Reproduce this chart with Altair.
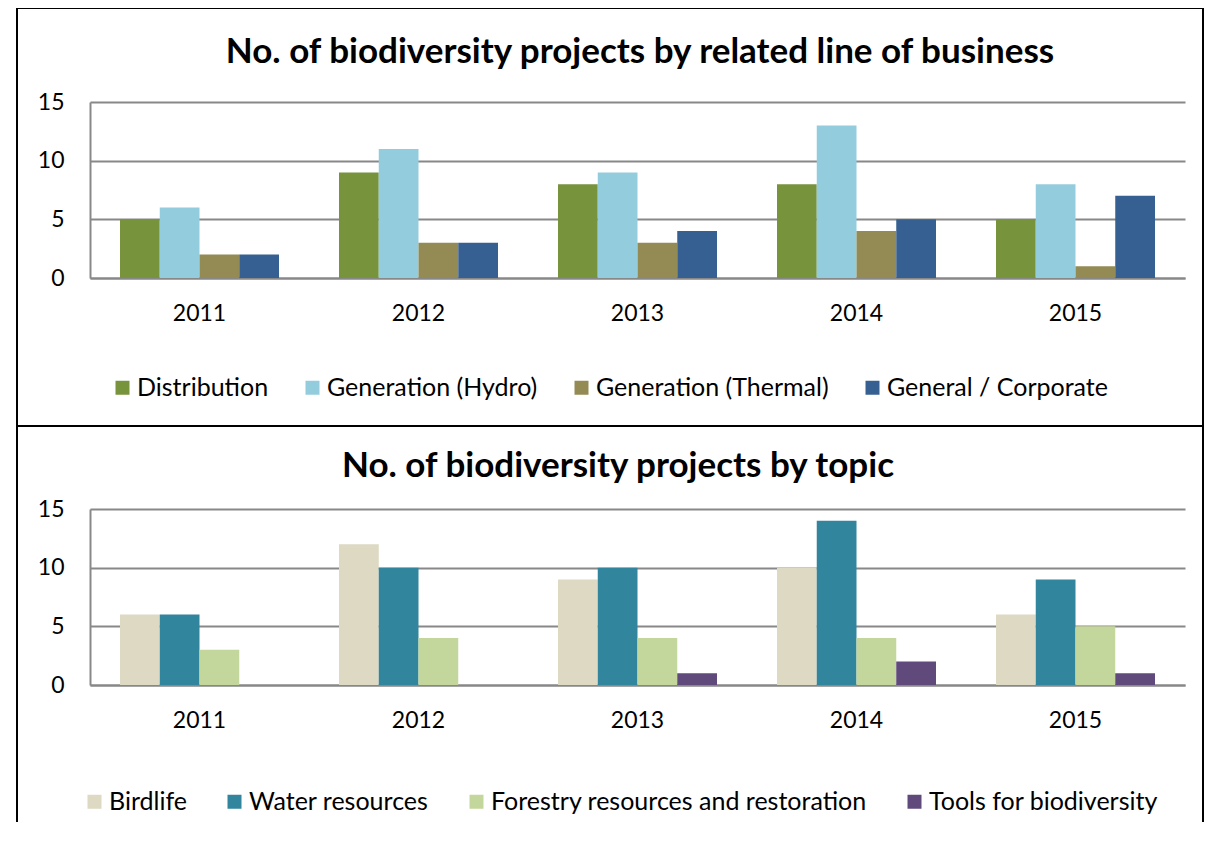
import altair as alt
import pandas as pd

years = ["2011", "2012", "2013", "2014", "2015"]

line_series = ["Distribution", "Generation (Hydro)", "Generation (Thermal)", "General / Corporate"]
distribution = [5, 9, 8, 8, 5]
hydro = [6, 11, 9, 13, 8]
thermal = [2, 3, 3, 4, 1]
corporate = [2, 3, 4, 5, 7]
line_colors = ["#77933C", "#93CDDD", "#948A54", "#376092"]

topic_series = ["Birdlife", "Water resources", "Forestry resources and restoration", "Tools for biodiversity"]
birdlife = [6, 12, 9, 10, 6]
water = [6, 10, 10, 14, 9]
forestry = [3, 4, 4, 4, 5]
tools = [0, 0, 1, 2, 1]
topic_colors = ["#DDD9C3", "#31859C", "#C3D69B", "#604A7B"]

title_top = "No. of biodiversity projects by related line of business"
title_bottom = "No. of biodiversity projects by topic"

FONT = "Lato"
W, H = 1095, 176


def make_df(series_names, series_values, field):
    rows = []
    for name, vals in zip(series_names, series_values):
        for y, v in zip(years, vals):
            rows.append({"year": y, field: name, "value": v})
    return pd.DataFrame(rows)


df_top = make_df(line_series, [distribution, hydro, thermal, corporate], "line")
df_bot = make_df(topic_series, [birdlife, water, forestry, tools], "topic")


def panel(df, field, names, colors, title, box, title_xy, legend_xy, colpad, closed):
    bars = alt.Chart(df).mark_bar().encode(
        x=alt.X("year:N", sort=years, title=None,
                scale=alt.Scale(domain=years, paddingInner=0.274, paddingOuter=0.137),
                axis=alt.Axis(labelAngle=0, labelFontSize=23, labelFont=FONT, labelColor="#000000",
                              labelPadding=24, ticks=False, domainColor="#888888", domainWidth=2)),
        xOffset=alt.XOffset(f"{field}:N", scale=alt.Scale(domain=names, paddingInner=0, paddingOuter=0)),
        y=alt.Y("value:Q", title=None,
                scale=alt.Scale(domain=[0, 15], nice=False),
                axis=alt.Axis(values=[0, 5, 10, 15], labelFontSize=23, labelFont=FONT, labelColor="#000000",
                              labelPadding=26, ticks=False, grid=True, gridColor="#888888", gridWidth=2,
                              domainColor="#888888", domainWidth=2)),
        color=alt.Color(f"{field}:N",
                        scale=alt.Scale(domain=names, range=colors),
                        legend=alt.Legend(orient="none", legendX=legend_xy[0], legendY=legend_xy[1],
                                          direction="horizontal", title=None, symbolType="square",
                                          symbolSize=196, symbolStrokeWidth=0, labelFontSize=25,
                                          labelFont=FONT, labelColor="#000000", labelOffset=2,
                                          columnPadding=colpad, padding=0, labelLimit=600)),
    )
    x0, x1, y0, y1 = box
    one = alt.Data(values=[{}])
    segs = [(x0, x1, y0, y0), (x0, x0, y0, y1), (x1, x1, y0, y1)]
    if closed:
        segs.append((x0, x1, y1, y1))
    layers = []
    for xa, xb, ya, yb in segs:
        layers.append(alt.Chart(one).mark_rule(stroke="#000000", strokeWidth=2, strokeCap="square").encode(
            x=alt.value(xa), x2=alt.value(xb), y=alt.value(ya), y2=alt.value(yb)))
    ttl = alt.Chart(one).mark_text(
        text=title, font=FONT, fontSize=35, fontWeight="bold", color="#000000",
        align="center", baseline="middle"
    ).encode(x=alt.value(title_xy[0]), y=alt.value(title_xy[1]))
    layers += [ttl, bars]
    return alt.layer(*layers).properties(width=W, height=H)


top = panel(df_top, "line", line_series, line_colors, title_top,
            (-73, 1113, -94, 324), (550, -50), (20, 273), 31, True)
bot = panel(df_bot, "topic", topic_series, topic_colors, title_bottom,
            (-73, 1113, -83, 312), (528, -43), (-8, 280), 35, False)

chart = alt.vconcat(top, bot, spacing=-4).resolve_scale(
    color="independent", x="independent", y="independent", xOffset="independent"
).resolve_legend(color="independent").properties(
    padding={"left": 7, "top": -2, "right": 0, "bottom": 0}
).configure_view(stroke="transparent")

chart.save("out.html", embed_options={"renderer": "svg", "actions": False})
